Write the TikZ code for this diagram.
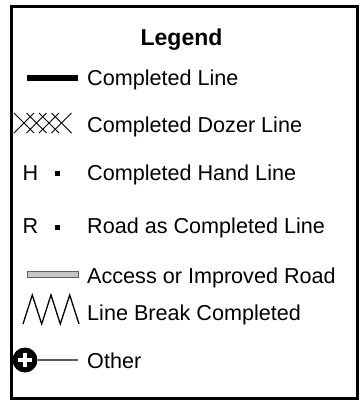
\documentclass[tikz,border=0pt]{standalone}
\usepackage{fontspec}
\setmainfont{Liberation Sans}
\usetikzlibrary{positioning}

\begin{document}
\begin{tikzpicture}[x=1pt,y=-1pt,every node/.style={font=\fontsize{21.6}{25}\selectfont,inner sep=0pt},
  lbl/.style={anchor=base west}]
  \useasboundingbox (0,0) rectangle (360,402);
  \draw[line width=2.5pt] (11.5,6.5) rectangle (357.5,398.5);
  \node[font=\fontsize{23}{27}\selectfont\bfseries,anchor=base] (title) at (181.5,45) {Legend};
  % completed line
  \fill[black] (27,74.5) rectangle (78,80.5);
  \node[lbl] (lblline) at (87,85) {Completed Line};
  % dozer line
  \foreach \i in {0,1,2,3}{
    \draw[line width=0.8pt] (14+\i*12.5,113) -- (34+\i*12.5,133);
    \draw[line width=0.8pt] (34+\i*12.5,113) -- (14+\i*12.5,133);
  }
  \node[lbl] (lbldozer) at (87,132) {Completed Dozer Line};
  % hand line
  \node[lbl] (hmark) at (22.5,180) {H};
  \fill[black] (55,171) rectangle (60,176);
  \node[lbl] (lblhand) at (87,180) {Completed Hand Line};
  % road as line
  \node[lbl] (rmark) at (22.5,233) {R};
  \fill[black] (55,224.5) rectangle (60,229.5);
  \node[lbl] (lblroad) at (87,233) {Road as Completed Line};
  % access road
  \draw[fill=gray!45,draw=gray!75!black,line width=0.6pt] (27,271) rectangle (78,277.5);
  \node[lbl] (lblaccess) at (87,283) {Access or Improved Road};
  % line break
  \draw[line width=1.3pt,line join=miter] (23,324) -- (32.3,295) -- (41.7,324) -- (51,295)
    -- (60.3,324) -- (69.7,295) -- (79,324);
  \node[lbl] (lblbreak) at (87,320) {Line Break Completed};
  % other
  \node[circle,fill=black,minimum size=25pt] (othersym) at (25,360) {};
  \coordinate (otherend) at (78,360);
  \draw[gray!70!black,line width=1.3pt] (othersym) -- (otherend);
  \draw[white,line width=4.5pt] (18,360) -- (32,360) (25,353) -- (25,367);
  \node[lbl] (lblother) at (87,368) {Other};
\end{tikzpicture}
\end{document}
